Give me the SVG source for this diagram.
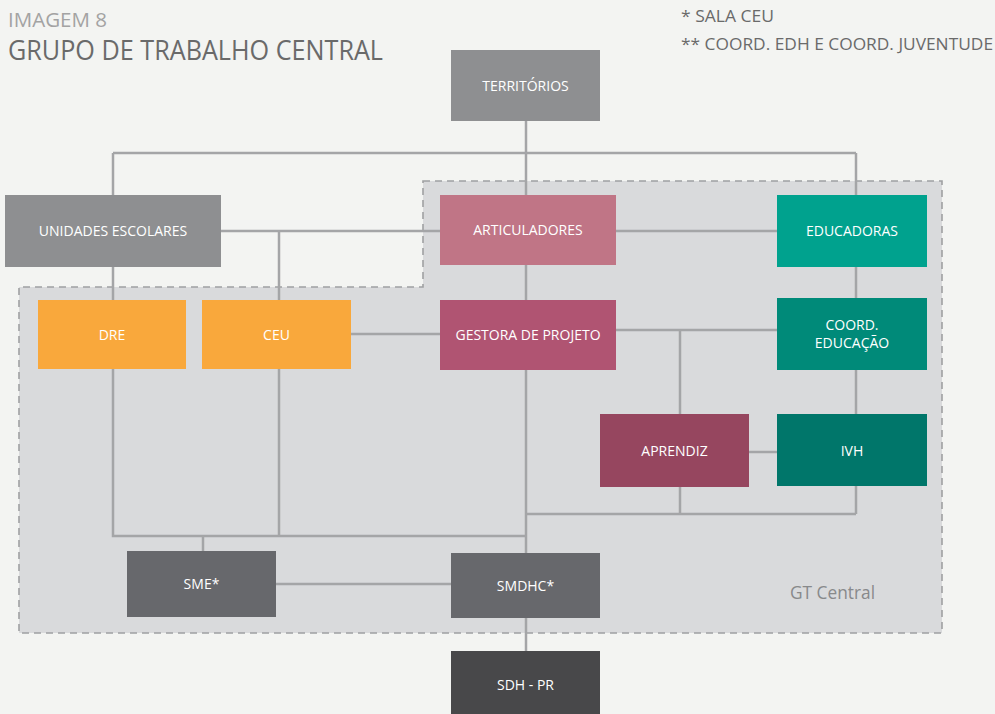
<svg xmlns="http://www.w3.org/2000/svg" width="995" height="714" viewBox="0 0 995 714">
<style>
.lbl{font-family:"Open Sans","Liberation Sans",sans-serif;font-size:14px;fill:#ffffff;text-anchor:middle;}
.conn{stroke:#a4a5a7;stroke-width:2.5;fill:none;}
.hdr{font-family:"Open Sans","Liberation Sans",sans-serif;}
</style>
<rect width="995" height="714" fill="#f3f4f2"/>
<g id="title">
<text class="hdr" x="8" y="27" font-size="20" fill="#a3a3a3" textLength="99" lengthAdjust="spacingAndGlyphs">IMAGEM 8</text>
<text class="hdr" x="8" y="60" font-size="27" fill="#6a6a6a" textLength="375" lengthAdjust="spacingAndGlyphs">GRUPO DE TRABALHO CENTRAL</text>
</g>
<g id="legend">
<text class="hdr" x="681" y="22" font-size="17" fill="#6a6a6a" textLength="93" lengthAdjust="spacingAndGlyphs">* SALA CEU</text>
<text class="hdr" x="681" y="50" font-size="17" fill="#6a6a6a" textLength="312" lengthAdjust="spacingAndGlyphs">** COORD. EDH E COORD. JUVENTUDE</text>
</g>
<g id="gt-central">
<path d="M423,181 H942 V633 H19 V287 H423 Z" fill="#d9dadc" stroke="#9fa0a2" stroke-width="1.6" stroke-dasharray="7 5"/>
<text class="hdr" x="790" y="599" font-size="18" fill="#88898b" textLength="85" lengthAdjust="spacingAndGlyphs">GT Central</text>
</g>
<g id="connectors" class="conn">
<path d="M526,121 V195"/>
<path d="M113,153 H856"/>
<path d="M113,153 V195"/>
<path d="M856,153 V195"/>
<path d="M221,231 H440"/>
<path d="M616,231 H777"/>
<path d="M279,231 V300"/>
<path d="M113,267 V300"/>
<path d="M526,265 V300"/>
<path d="M856,267 V298"/>
<path d="M351,334 H440"/>
<path d="M616,330 H777"/>
<path d="M680,330 V414"/>
<path d="M856,370 V414"/>
<path d="M749,452 H777"/>
<path d="M680,487 V514"/>
<path d="M856,486 V514"/>
<path d="M526,514 H856"/>
<path d="M526,370 V553"/>
<path d="M113,369 V536 H526"/>
<path d="M279,369 V536"/>
<path d="M203,536 V551"/>
<path d="M276,584 H451"/>
<path d="M526,618 V651"/>
</g>
<g id="territorios"><rect x="451" y="50" width="149" height="71" fill="#8e8f91"/><text class="lbl" x="525.5" y="91">TERRITÓRIOS</text></g>
<g id="unidades-escolares"><rect x="5" y="195" width="216" height="72" fill="#8e8f91"/><text class="lbl" x="113" y="236">UNIDADES ESCOLARES</text></g>
<g id="articuladores"><rect x="440" y="195" width="176" height="70" fill="#c07586"/><text class="lbl" x="528" y="235">ARTICULADORES</text></g>
<g id="educadoras"><rect x="777" y="195" width="150" height="72" fill="#00a28e"/><text class="lbl" x="852" y="236">EDUCADORAS</text></g>
<g id="dre"><rect x="38" y="300" width="148" height="69" fill="#f9a83c"/><text class="lbl" x="112" y="339.5">DRE</text></g>
<g id="ceu"><rect x="202" y="300" width="149" height="69" fill="#f9a83c"/><text class="lbl" x="276.5" y="339.5">CEU</text></g>
<g id="gestora-de-projeto"><rect x="440" y="300" width="176" height="70" fill="#b05472"/><text class="lbl" x="528" y="340">GESTORA DE PROJETO</text></g>
<g id="coord-educacao"><rect x="777" y="298" width="150" height="72" fill="#008a79"/><text class="lbl" x="852" y="330">COORD.</text><text class="lbl" x="852" y="347.5">EDUCAÇÃO</text></g>
<g id="aprendiz"><rect x="600" y="414" width="149" height="73" fill="#96465f"/><text class="lbl" x="674.5" y="455.5">APRENDIZ</text></g>
<g id="ivh"><rect x="777" y="414" width="150" height="72" fill="#00766a"/><text class="lbl" x="852" y="455.5">IVH</text></g>
<g id="sme"><rect x="127" y="551" width="149" height="66" fill="#67686c"/><text class="lbl" x="201.5" y="589">SME*</text></g>
<g id="smdhc"><rect x="451" y="553" width="149" height="65" fill="#67686c"/><text class="lbl" x="525.5" y="590.5">SMDHC*</text></g>
<g id="sdh-pr"><rect x="451" y="651" width="149" height="63" fill="#48484a"/><text class="lbl" x="525.5" y="689.5">SDH - PR</text></g>
</svg>
